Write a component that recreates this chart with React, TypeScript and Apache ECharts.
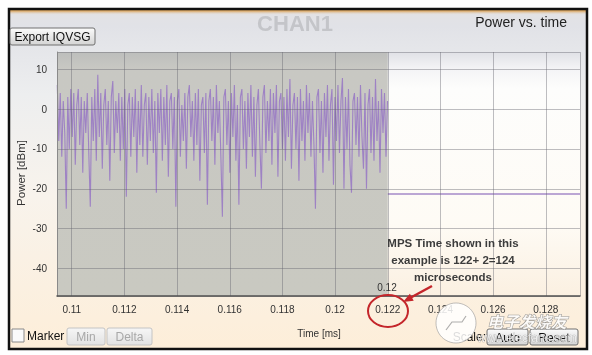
import React, { useEffect, useRef } from "react";
import * as echarts from "echarts";

// ---- data ----
const X_RANGE = [0.10944, 0.1293];
const Y_RANGE = [-46.9, 14.3];
const TRACE_START = 0.10945; // ms
const TRACE_STEP = 0.000057; // ms per sample
const powerTrace: number[] = [
  6, -8, 4, -12, 2, -6, -25, 3, -10, 5,
  -7, 4, -14, 1, 5, -9, 3, -16, 2, -6,
  4, -11, -24.5, 3, -8, 5, -13, 8.6, -7, 4,
  -15, 1, 5, -9, 2, -18, 3, 7, -11, 2,
  -6, 4, -13, 3, -10, 5, -22, 1, 4, -12,
  3, -7, 5, -16, 2, -9, 6, -12, 1, 4,
  -14, 3, -8, 5, -11, 2, -21, 4, -6, 5,
  -13, 3, -9, 6, -17, 2, 4, -10, 3, -24.5,
  2, 5, -12, 1, -8, 4, -15, 3, 6, -7,
  2, -13, 4, -9, 5, -18, 1, 3, -11, 4,
  -24, 2, 5, -8, 3, -14, 6, -6, 2, -12,
  -27, 3, 5, -9, 2, -16, 4, -7, 6, -13,
  1, -24, 3, 5, -10, 2, -15, 4, -7, 6,
  -12, 3, -17, 1, 5, -9, -20, 3, 6, -11,
  2, -8, 5, -14, 4, -6, 6, -17, 2, 4,
  -10, 3, -13, 5, -7, 7.5, -15, 1, 4, -10,
  3, -18, 5, -8, 2, -13, 6, -6, 4, -12,
  2, -9, -25, 3, 5, -11, 2, -16, 4, -7,
  6, -13, 1, 5, -19, 3, -8, 6, -11, 2,
  7.8, -20, 3, -10, 5, -14, -21, 2, 4, -9,
  3, -12, 6, -7, -15, 4, -20, 1, 5, -11,
  3, -13, 7.5, -8, 2, -16, 5, -6, 4, -12,
  2,
];
const tailTimes = [0.122, 0.1293];
const tailPower = [-21.3, -21.3];
const SHADE_END = 0.122;
const noteLines = ["MPS Time shown in this", "example is 122+ 2=124", "microseconds"];

const FONT = "'Liberation Sans', Arial, sans-serif";

export default function App() {
  const ref = useRef<HTMLDivElement>(null);
  useEffect(() => {
    if (!ref.current) return;
    const chart = echarts.init(ref.current, undefined, { renderer: "svg" });
    const traceData = powerTrace.map((v, i) => [TRACE_START + i * TRACE_STEP, v]);
    const tailData = tailTimes.map((t, i) => [t, tailPower[i]]);
    const grad = (stops: [number, string][]) =>
      new echarts.graphic.LinearGradient(0, 0, 0, 1, stops.map(([offset, color]) => ({ offset, color })));

    const btn = (x: number, y: number, w: number, h: number, label: string, color: string, disabled: boolean) => [
      {
        type: "rect",
        z: 100,
        shape: { x, y, width: w, height: h, r: 2 },
        style: {
          fill: disabled ? grad([[0, "#f6f6f6"], [1, "#e2e2e2"]]) : grad([[0, "#fbfbfb"], [1, "#d4d4d4"]]),
          stroke: disabled ? "#c4c4c4" : "#707070",
          lineWidth: 1,
        },
      },
      {
        type: "text",
        z: 101,
        x: x + w / 2,
        y: y + h / 2 + 0.5,
        style: { text: label, fill: color, font: `12px ${FONT}`, align: "center", verticalAlign: "middle" },
      },
    ];

    const gridLineStyle = { color: "rgba(100,100,110,0.42)", width: 1 };

    chart.setOption({
      animation: false,
      grid: {
        left: 57,
        right: 12,
        top: 52,
        bottom: 59,
        show: true,
        borderWidth: 0,
        backgroundColor: grad([
          [0, "#e0e1e6"],
          [0.07, "#f4f4f6"],
          [0.15, "#fdfdfc"],
          [0.7, "#fefbf5"],
          [1, "#fbf0e1"],
        ]),
      },
      xAxis: {
        type: "value",
        min: X_RANGE[0],
        max: X_RANGE[1],
        splitNumber: 10,
        z: 5,
        axisLine: { show: true, onZero: false, lineStyle: { color: "#505050", width: 1.5 } },
        axisTick: { show: false },
        axisLabel: {
          fontSize: 10,
          color: "#333",
          fontFamily: FONT,
          margin: 8,
          showMinLabel: false,
          showMaxLabel: false,
          formatter: (v: number) => String(+v.toFixed(3)),
        },
        splitLine: { show: true, lineStyle: gridLineStyle },
      },
      yAxis: {
        type: "value",
        min: Y_RANGE[0],
        max: Y_RANGE[1],
        splitNumber: 5,
        z: 5,
        axisLine: { show: true, onZero: false, lineStyle: { color: "#8a8a8a", width: 1 } },
        axisTick: { show: false },
        axisLabel: {
          fontSize: 10,
          color: "#333",
          fontFamily: FONT,
          margin: 10,
          showMinLabel: false,
          showMaxLabel: false,
        },
        splitLine: { show: true, lineStyle: gridLineStyle },
      },
      series: [
        {
          type: "line",
          data: traceData,
          showSymbol: false,
          silent: true,
          lineStyle: { color: "#9a7cc4", width: 1.1, opacity: 0.92 },
          markArea: {
            silent: true,
            itemStyle: {
              color: grad([
                [0, "#bdbebc"],
                [0.07, "#c8c8c3"],
                [1, "#c9c9c1"],
              ]),
            },
            data: [[{ xAxis: X_RANGE[0] }, { xAxis: SHADE_END }]],
          },
        },
        {
          type: "line",
          data: tailData,
          showSymbol: false,
          silent: true,
          lineStyle: { color: "#a48ac8", width: 1.6 },
        },
      ],
      graphic: {
        elements: [
          {
            type: "rect",
            z: -100,
            shape: { x: 9, y: 9, width: 578, height: 340 },
            style: {
              fill: grad([
                [0, "#e3e2e4"],
                [0.05, "#e1e2e7"],
                [0.25, "#edeeef"],
                [0.55, "#f8f3ec"],
                [1, "#fdeed9"],
              ]),
            },
          },
          {
            type: "rect",
            z: 99,
            shape: { x: 9, y: 9, width: 578, height: 6 },
            style: { fill: grad([[0, "#c98a38"], [0.4, "#ddb27a"], [1, "rgba(228,226,226,0)"]]) },
          },
          {
            type: "rect",
            z: 100,
            shape: { x: 9, y: 9, width: 578, height: 340 },
            style: { fill: "none", stroke: "#111", lineWidth: 2.5 },
          },
          {
            type: "text",
            z: 100,
            x: 295,
            y: 23,
            style: { text: "CHAN1", fill: "#c4c5c9", font: `bold 22px ${FONT}`, align: "center", verticalAlign: "middle" },
          },
          {
            type: "text",
            z: 100,
            x: 567,
            y: 22,
            style: { text: "Power vs. time", fill: "#222", font: `14px ${FONT}`, align: "right", verticalAlign: "middle" },
          },
          ...btn(10, 28, 85, 17, "Export IQVSG", "#111", false),
          {
            type: "text",
            z: 100,
            x: 21,
            y: 173,
            rotation: Math.PI / 2,
            style: { text: "Power [dBm]", fill: "#333", font: `11.5px ${FONT}`, align: "center", verticalAlign: "middle" },
          },
          {
            type: "text",
            z: 100,
            x: 319,
            y: 333,
            style: { text: "Time [ms]", fill: "#333", font: `10px ${FONT}`, align: "center", verticalAlign: "middle" },
          },
          {
            type: "text",
            z: 100,
            x: 387,
            y: 287,
            style: { text: "0.12", fill: "#333", font: `10px ${FONT}`, align: "center", verticalAlign: "middle" },
          },
          ...noteLines.map((line, i) => ({
            type: "text",
            z: 100,
            x: 453,
            y: 243 + i * 17,
            style: { text: line, fill: "#3c3c3c", font: `bold 11.5px ${FONT}`, align: "center", verticalAlign: "middle" },
          })),
          {
            type: "ellipse",
            z: 100,
            shape: { cx: 388, cy: 311, rx: 20, ry: 16 },
            style: { fill: "none", stroke: "#c4262b", lineWidth: 2 },
          },
          {
            type: "line",
            z: 100,
            shape: { x1: 432, y1: 286, x2: 410, y2: 298 },
            style: { stroke: "#c4262b", lineWidth: 2.5 },
          },
          {
            type: "polygon",
            z: 100,
            shape: { points: [[403, 302], [413.7, 300.7], [409.9, 293.7]] },
            style: { fill: "#c4262b" },
          },
          {
            type: "rect",
            z: 100,
            shape: { x: 12, y: 329, width: 12, height: 13 },
            style: { fill: "#fafafa", stroke: "#8a8a8a", lineWidth: 1 },
          },
          {
            type: "text",
            z: 100,
            x: 27,
            y: 336,
            style: { text: "Marker", fill: "#111", font: `12px ${FONT}`, align: "left", verticalAlign: "middle" },
          },
          ...btn(67, 328, 38, 17, "Min", "#a8a8a8", true),
          ...btn(107, 328, 45, 17, "Delta", "#a8a8a8", true),
          {
            type: "text",
            z: 100,
            x: 486,
            y: 337,
            style: { text: "Scale:", fill: "#111", font: `12px ${FONT}`, align: "right", verticalAlign: "middle" },
          },
          ...btn(487, 329, 41, 16, "Auto", "#111", false),
          ...btn(530, 329, 48, 16, "Reset", "#111", false),
          {
            type: "circle",
            z: 110,
            shape: { cx: 456, cy: 323, r: 20 },
            style: { fill: "rgba(255,255,255,0.85)", stroke: "rgba(150,150,150,0.6)", lineWidth: 1 },
          },
          {
            type: "polyline",
            z: 111,
            shape: { points: [[446, 330], [452, 322], [462, 322], [466, 316]] },
            style: { stroke: "rgba(140,140,140,0.7)", lineWidth: 1.2, fill: "none" },
          },
          {
            type: "text",
            z: 111,
            x: 527,
            y: 321,
            style: {
              text: "电子发烧友",
              fill: "rgba(255,255,255,0.85)",
              stroke: "rgba(120,120,120,0.75)",
              lineWidth: 1,
              font: `italic bold 16px 'Noto Sans CJK SC', sans-serif`,
              align: "center",
              verticalAlign: "middle",
            },
          },
          {
            type: "text",
            z: 111,
            x: 527,
            y: 338,
            style: {
              text: "www.elecfans.com",
              fill: "rgba(255,255,255,0.7)",
              stroke: "rgba(130,130,130,0.6)",
              lineWidth: 0.6,
              font: `12px ${FONT}`,
              align: "center",
              verticalAlign: "middle",
            },
          },
        ],
      },
    });
    return () => chart.dispose();
  }, []);
  return <div ref={ref} style={{ position: "fixed", left: 0, top: 0, width: 592, height: 355 }} />;
}
